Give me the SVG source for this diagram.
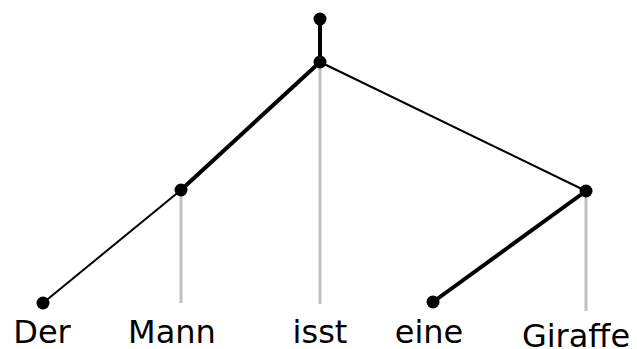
<svg xmlns="http://www.w3.org/2000/svg" width="637" height="349" viewBox="0 0 637 349">
<style>
.thick{stroke:#000;stroke-width:4;fill:none}
.thin{stroke:#000;stroke-width:2;fill:none}
.proj{stroke:#c0c0c0;stroke-width:3;fill:none}
.dot{fill:#000}
text{font-family:"DejaVu Sans",sans-serif;font-size:32px;fill:#000;text-anchor:middle}
</style>
<rect width="637" height="349" fill="#fff"/>
<g id="connectors">
<line class="proj" x1="181" y1="190" x2="181" y2="303"/>
<line class="proj" x1="320" y1="62" x2="320" y2="304"/>
<line class="proj" x1="586" y1="191" x2="586" y2="311"/>
<line class="thick" x1="320" y1="19" x2="320" y2="62"/>
<line class="thick" x1="320" y1="62" x2="181" y2="190"/>
<line class="thin" x1="320" y1="62" x2="586" y2="191"/>
<line class="thin" x1="181" y1="190" x2="43" y2="303"/>
<line class="thick" x1="586" y1="191" x2="433" y2="302"/>
</g>
<g id="n_root"><circle class="dot" cx="320" cy="19" r="6.5"/></g>
<g id="n_s"><circle class="dot" cx="320" cy="62" r="6.5"/></g>
<g id="n_np1"><circle class="dot" cx="181" cy="190" r="6.5"/></g>
<g id="n_np2"><circle class="dot" cx="586" cy="191" r="6.5"/></g>
<g id="w_der"><circle class="dot" cx="43" cy="303" r="6.5"/><text x="42" y="343">Der</text></g>
<g id="w_mann"><text x="172" y="343">Mann</text></g>
<g id="w_isst"><text x="320" y="343">isst</text></g>
<g id="w_eine"><circle class="dot" cx="433" cy="302" r="6.5"/><text x="429" y="343">eine</text></g>
<g id="w_giraffe"><text x="576" y="347">Giraffe</text></g>
</svg>
